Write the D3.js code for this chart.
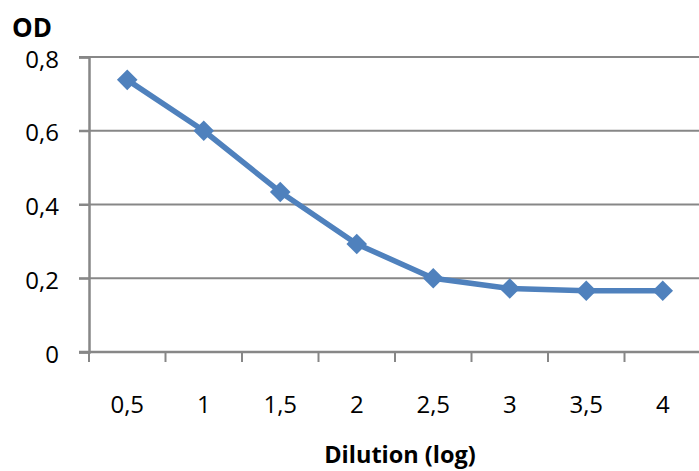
<!DOCTYPE html>
<html>
<head>
<meta charset="utf-8">
<script src="https://cdn.jsdelivr.net/npm/d3@7"></script>
<style>
  body { margin: 0; background: #fff; overflow: hidden; }
  svg { display: block; }
  text { font-family: "Open Sans", "Noto Sans", sans-serif; fill: #000; }
</style>
</head>
<body>
<svg id="canvas"></svg>
<script>
const dilution = ["0,5", "1", "1,5", "2", "2,5", "3", "3,5", "4"];
const od = [0.738, 0.6, 0.434, 0.293, 0.2, 0.172, 0.166, 0.166];
const yTicks = [0, 0.2, 0.4, 0.6, 0.8];

const width = 699;
const height = 471;
const margin = { top: 57, right: -2, bottom: 119, left: 89 };
const innerWidth = width - margin.left - margin.right;
const innerHeight = height - margin.top - margin.bottom;

const svg = d3.select("#canvas")
    .attr("width", width)
    .attr("height", height);

const g = svg.append("g")
    .attr("transform", `translate(${margin.left},${margin.top})`);

const x = d3.scaleBand()
    .domain(dilution)
    .range([0, innerWidth]);

const y = d3.scaleLinear()
    .domain([0, 0.8])
    .range([innerHeight, 0]);

// gridlines
g.append("g")
    .selectAll("line")
    .data(yTicks.filter(d => d > 0))
    .enter()
    .append("line")
    .attr("x1", -10)
    .attr("x2", innerWidth)
    .attr("y1", d => y(d))
    .attr("y2", d => y(d))
    .attr("stroke", "#878787")
    .attr("stroke-width", 2);

// y axis
const yAxis = g.append("g")
    .call(d3.axisLeft(y).tickValues(yTicks).tickSize(10).tickPadding(20)
        .tickFormat(d => d3.format(".1f")(d).replace(".", ",").replace("0,0", "0")));
yAxis.select(".domain").attr("stroke", "#878787").attr("stroke-width", 2.5);
yAxis.selectAll(".tick line").attr("stroke", "#878787").attr("stroke-width", 2);
yAxis.selectAll(".tick text").style("font-size", "24px").attr("dy", "0.42em");

// x axis: ticks between categories
const xAxisG = g.append("g")
    .attr("transform", `translate(0,${innerHeight})`);
xAxisG.append("line")
    .attr("x1", -10)
    .attr("x2", innerWidth)
    .attr("stroke", "#878787")
    .attr("stroke-width", 2.5);
xAxisG.selectAll(".sep")
    .data(dilution)
    .enter()
    .append("line")
    .attr("class", "sep")
    .attr("x1", d => x(d))
    .attr("x2", d => x(d))
    .attr("y1", 0)
    .attr("y2", 10)
    .attr("stroke", "#878787")
    .attr("stroke-width", 2);
xAxisG.selectAll(".lbl")
    .data(dilution)
    .enter()
    .append("text")
    .attr("class", "lbl")
    .attr("x", d => x(d) + x.bandwidth() / 2)
    .attr("y", 61)
    .attr("text-anchor", "middle")
    .style("font-size", "24px")
    .text(d => d);

// line
const line = d3.line()
    .x((d, i) => x(dilution[i]) + x.bandwidth() / 2)
    .y(d => y(d));

g.append("path")
    .datum(od)
    .attr("d", line)
    .attr("fill", "none")
    .attr("stroke", "#4f81bd")
    .attr("stroke-width", 5.5)
    .attr("stroke-linejoin", "round");

// diamond markers
g.selectAll(".marker")
    .data(od)
    .enter()
    .append("path")
    .attr("class", "marker")
    .attr("d", d3.symbol().type(d3.symbolDiamond2).size(270))
    .attr("transform", (d, i) => `translate(${x(dilution[i]) + x.bandwidth() / 2},${y(d)})`)
    .attr("fill", "#4f81bd");

// axis titles
svg.append("text")
    .attr("x", 12)
    .attr("y", 37)
    .style("font-size", "26px")
    .style("font-weight", "bold")
    .text("OD");

svg.append("text")
    .attr("x", 400)
    .attr("y", 463)
    .attr("text-anchor", "middle")
    .style("font-size", "23.5px")
    .style("font-weight", "bold")
    .text("Dilution (log)");
</script>
</body>
</html>
